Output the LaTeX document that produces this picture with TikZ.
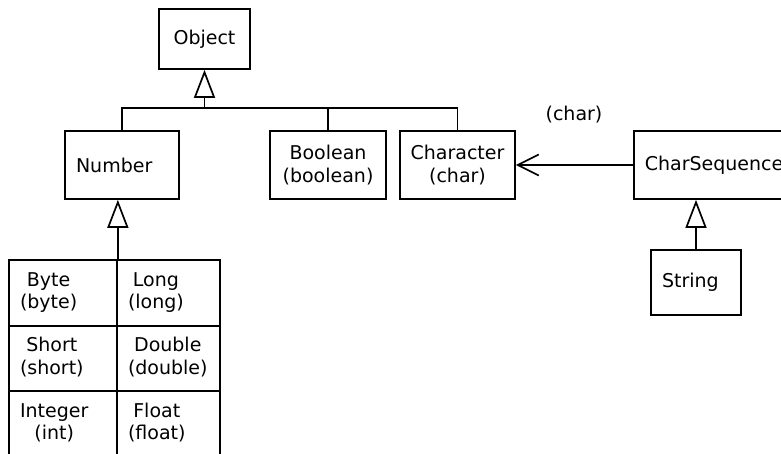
\documentclass[tikz,border=0pt]{standalone}
\usepackage{fontspec}
\setmainfont{DejaVu Sans}
\usetikzlibrary{arrows.meta}
\newcommand{\twol}[2]{\begin{tabular}{@{}c@{}}#1\\#2\end{tabular}}
\begin{document}
\begin{tikzpicture}[x=1pt,y=-1pt,line width=1.7pt]
\tikzstyle{every node}+=[font=\fontsize{19}{22.5}\selectfont]
\tikzstyle{cls}=[draw,rectangle,inner sep=0pt,align=center]
\tikzstyle{clsl}=[draw,rectangle,inner ysep=0pt,inner xsep=11pt,align=left]
\tikzstyle{inherit}=[-{Triangle[open,length=28pt,width=21pt,line width=1.7pt]}]
\useasboundingbox (0,0) rectangle (781,454);
\clip (0,0) rectangle (781,454);
\node [cls,minimum width=91pt,minimum height=60pt] (obj) at (204.5,39) {Object};
\node [clsl,text width=92pt,minimum height=68pt] (num) at (122,165) {Number};
\node [cls,minimum width=116pt,minimum height=68pt] (bool) at (328,165) {Boolean\\(boolean)};
\node [cls,minimum width=115pt,minimum height=68pt] (char) at (457.5,165) {Character\\(char)};
\node [clsl,text width=148pt,minimum height=68pt,anchor=west] (cseq) at (633,165) {CharSequence};
\node [clsl,text width=68pt,minimum height=65pt] (str) at (696,282.5) {String};
\node (lbl) at (574,115) {(char)};
\node [clsl,text width=86pt,minimum height=66pt] (byte) at (63,293) {\twol{Byte}{(byte)}};
\node [clsl,text width=81pt,minimum height=66pt] (long) at (168.5,293) {\twol{Long}{(long)}};
\node [clsl,text width=86pt,minimum height=65pt] (short) at (63,358.5) {\twol{Short}{(short)}};
\node [clsl,text width=81pt,minimum height=65pt] (dbl) at (168.5,358.5) {\twol{Double}{(double)}};
\node [clsl,text width=86pt,minimum height=66pt] (int) at (63,424) {\twol{Integer}{(int)}};
\node [clsl,text width=81pt,minimum height=66pt] (flt) at (168.5,424) {\twol{Float}{(float)}};
\coordinate (join) at (204.5,108);
\draw [inherit] (join) -- (obj.south);
\draw (num.north) |- (join) -| (char.north);
\draw (bool.north) -- (bool.north |- join);
\draw [inherit] (byte.north east) -- (byte.north east |- num.south);
\draw [inherit] (str.north) -- (str.north |- cseq.south);
\draw [-{Straight Barb[length=21pt,width=21pt,line width=1.7pt]}] (cseq.west) -- (char.east);
\end{tikzpicture}
\end{document}
